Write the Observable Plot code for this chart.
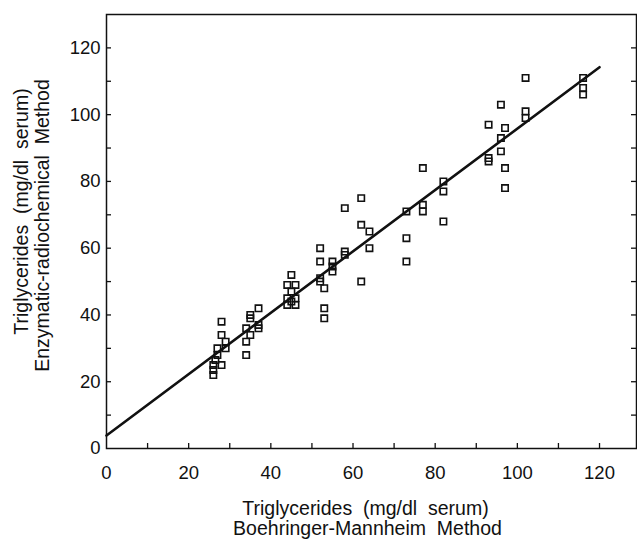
<!DOCTYPE html>
<html>
<head>
<meta charset="utf-8">
<script src="https://cdn.jsdelivr.net/npm/d3@7"></script>
<script src="https://cdn.jsdelivr.net/npm/@observablehq/plot@0.6"></script>
<style>
  html, body { margin: 0; padding: 0; background: #fff; }
  #chart { width: 637px; height: 541px; }
</style>
</head>
<body>
<div id="chart"></div>
<script>
// Boehringer-Mannheim method (x) vs enzymatic-radiochemical method (y), mg/dl serum
const bmValues = [
  26, 26, 26, 26.5, 27, 27, 28, 28, 28, 29, 29,
  34, 34, 34, 35, 35, 35, 37, 37, 37,
  44, 44, 44, 45, 45, 45, 46, 46, 46,
  52, 52, 52, 52, 53, 53, 53, 55, 55, 55,
  58, 58, 58, 62, 62, 64, 64, 62,
  73, 73, 73, 77, 77, 77, 82, 82, 82,
  93, 93, 93, 96, 96, 96, 97, 97, 97, 102, 102, 102, 116, 116, 116
];
const erValues = [
  22, 23.5, 25, 26.5, 28, 30, 25, 34, 38, 32, 30,
  28, 32, 36, 34, 39, 40, 36, 37, 42,
  43, 45, 49, 47, 52, 44, 49, 45, 43,
  60, 56, 51, 50, 48, 42, 39, 56, 54.5, 53,
  72, 59, 58, 75, 67, 65, 60, 50,
  71, 63, 56, 84, 73, 71, 80, 77, 68,
  97, 87, 86, 103, 93, 89, 96, 84, 78, 111, 101, 99, 111, 108, 106
];
// regression line end points
const fitX = [0, 120];
const fitY = [3.9, 114.2];

const tickLabels = [0, 20, 40, 60, 80, 100, 120];
const tickMarks = [10, 20, 30, 40, 50, 60, 70, 80, 90, 100, 110, 120];

const xTitle = ["Triglycerides  (mg/dl  serum)", "Boehringer-Mannheim  Method"];
const yTitle = ["Triglycerides  (mg/dl  serum)", "Enzymatic-radiochemical  Method"];

const points = bmValues.map((x, i) => ({x, y: erValues[i]}));
const fit = fitX.map((x, i) => ({x, y: fitY[i]}));

const W = 637, H = 541;
const mL = 106, mR = 1, mT = 14, mB = 93;
const plotW = W - mL - mR, plotH = H - mT - mB;
const ink = "#111";
const font = "'Liberation Sans', Arial, Helvetica, sans-serif";

const chart = Plot.plot({
  width: W,
  height: H,
  marginLeft: mL,
  marginRight: mR,
  marginTop: mT,
  marginBottom: mB,
  style: {fontFamily: font, fontSize: "18.5px", color: ink, background: "#fff"},
  x: {domain: [0, 129], label: null},
  y: {domain: [0, 130], label: null},
  marks: [
    Plot.frame({stroke: ink, strokeWidth: 1.5}),
    Plot.tickX(tickMarks, {x: d => d, stroke: ink, strokeWidth: 1.3, insetTop: plotH - 5}),
    Plot.tickY(tickMarks, {y: d => d, stroke: ink, strokeWidth: 1.3, insetRight: plotW - 5}),
    Plot.tickY(tickMarks, {y: d => d, stroke: ink, strokeWidth: 1.3, insetLeft: plotW - 5}),
    Plot.axisX({ticks: tickLabels, tickSize: 0, tickPadding: 17, fontSize: 18.5, fill: ink}),
    Plot.axisY({ticks: tickLabels, tickSize: 0, tickPadding: 6, fontSize: 18.5, fill: ink}),
    Plot.line(fit, {x: "x", y: "y", stroke: ink, strokeWidth: 2.6}),
    Plot.dot(points, {x: "x", y: "y", symbol: "square", r: 3.6, stroke: ink, strokeWidth: 1.6, fill: "none"}),
    Plot.text([xTitle[0]], {frameAnchor: "bottom", text: d => d, dy: 60, dx: -6, fontSize: 19.5, fill: ink, lineAnchor: "middle", textAnchor: "middle"}),
    Plot.text([xTitle[1]], {frameAnchor: "bottom", text: d => d, dy: 80, dx: -4, fontSize: 19.5, fill: ink, lineAnchor: "middle", textAnchor: "middle"}),
    Plot.text([yTitle[0]], {frameAnchor: "left", text: d => d, dx: -85, dy: -20, rotate: -90, fontSize: 19.5, fill: ink, lineAnchor: "middle", textAnchor: "middle"}),
    Plot.text([yTitle[1]], {frameAnchor: "left", text: d => d, dx: -64, dy: -6, rotate: -90, fontSize: 19.5, fill: ink, lineAnchor: "middle", textAnchor: "middle"})
  ]
});
document.getElementById("chart").appendChild(chart);
</script>
</body>
</html>
